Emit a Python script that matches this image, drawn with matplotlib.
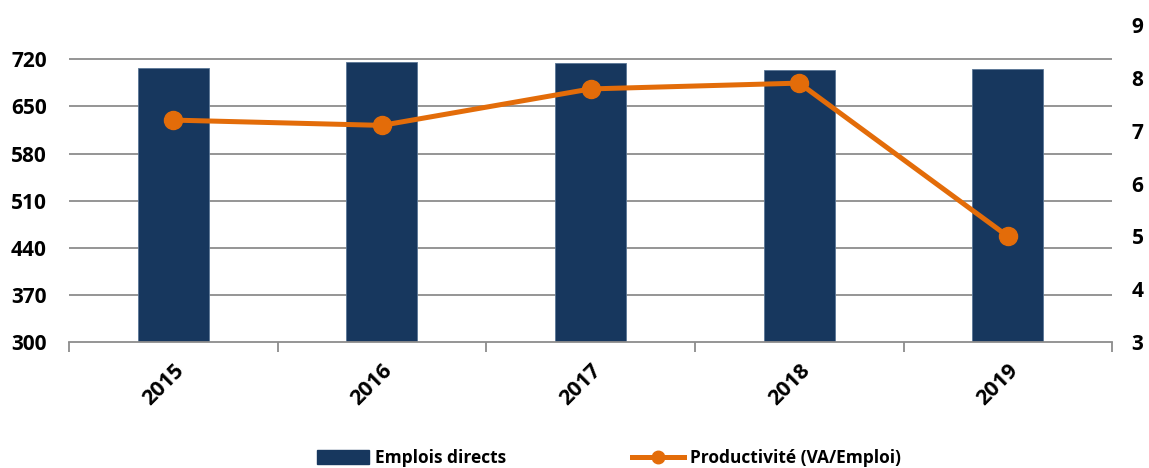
import matplotlib.pyplot as plt
from matplotlib.lines import Line2D
from matplotlib.patches import Patch
import numpy as np

# Emplois directs (axe gauche) et productivité VA/emploi (axe droit)
years = ['2015', '2016', '2017', '2018', '2019']
emplois = [707, 716, 714, 704, 706]
productivite = [7.20, 7.10, 7.79, 7.90, 5.0]

bar_color = '#17375E'
line_color = '#E36C09'
grid_color = '#8C8C8C'

plt.rcParams['font.family'] = ['Open Sans', 'DejaVu Sans']
plt.rcParams['font.weight'] = 'bold'

fig = plt.figure(figsize=(11.49, 4.68), dpi=100)
ax = fig.add_axes([0.060, 0.2692, 0.908, 0.6774])
x = np.arange(len(years))

ax.bar(x, emplois, width=0.34, color=bar_color, edgecolor='#5A7696', linewidth=0.6, zorder=2)
ax.set_xlim(-0.5, len(years) - 0.5)
ax.set_ylim(300, 771)
ax.set_yticks(np.arange(300, 721, 70))
for yv in np.arange(370, 721, 70):
    ax.axhline(yv, color=grid_color, linewidth=1.3, zorder=1)

for s in ['top', 'right', 'left']:
    ax.spines[s].set_visible(False)
ax.spines['bottom'].set_color(grid_color)
ax.spines['bottom'].set_linewidth(1.3)

# graduations entre les catégories
ax.set_xticks(np.arange(-0.5, len(years), 1.0), minor=False)
ax.set_xticklabels([''] * (len(years) + 1))
ax.tick_params(axis='x', which='major', length=7, width=1.3, color=grid_color)
ax.set_xticks(x, minor=True)
ax.set_xticklabels(years, minor=True, rotation=45, ha='right', rotation_mode='anchor',
                   fontsize=15.5, fontweight='bold')
ax.tick_params(axis='x', which='minor', length=0, pad=13)
ax.tick_params(axis='y', length=0, labelsize=15, pad=16)
for lbl in ax.get_yticklabels():
    lbl.set_fontweight('bold')

ax2 = ax.twinx()
ax2.plot(x, productivite, color=line_color, linewidth=3.6, marker='o', markersize=13,
         solid_capstyle='round', zorder=3)
ax2.set_ylim(3, 9)
ax2.set_yticks(range(3, 10))
ax2.tick_params(axis='y', length=0, labelsize=15, pad=14)
for lbl in ax2.get_yticklabels():
    lbl.set_fontweight('bold')
for s in ax2.spines.values():
    s.set_visible(False)

handles = [Patch(facecolor=bar_color, edgecolor=bar_color),
           Line2D([0], [0], color=line_color, linewidth=3.6, marker='o', markersize=9)]
fig.legend(handles, ['Emplois directs', 'Productivité (VA/Emploi)'],
           loc='center', bbox_to_anchor=(0.530, 0.021), ncol=2, frameon=False,
           prop={'size': 12.5, 'weight': 'bold'}, handlelength=3.0, handleheight=0.9,
           handletextpad=0.3, columnspacing=7.3)

fig.savefig('out.png', dpi=100)
